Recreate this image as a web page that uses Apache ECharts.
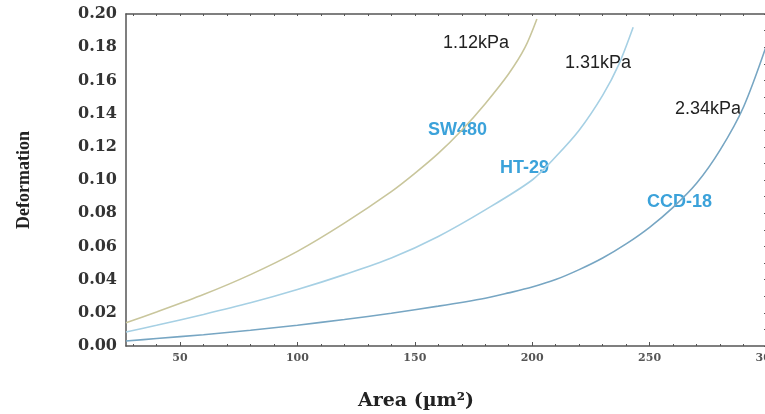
<!DOCTYPE html>
<html>
<head>
<meta charset="utf-8">
<script src="https://cdn.jsdelivr.net/npm/echarts@6/dist/echarts.min.js"></script>
<style>html,body{margin:0;padding:0;background:#fff;}#c{width:765px;height:414px;}</style>
</head>
<body>
<div id="c"></div>
<script>
// Data
const xSW = [27, 40, 60, 80, 100, 120, 140, 150, 160, 170, 180, 190, 197, 202];
const ySW = [0.014, 0.0205, 0.031, 0.043, 0.057, 0.074, 0.093, 0.104, 0.116, 0.130, 0.146, 0.164, 0.180, 0.197];
const xHT = [27, 40, 60, 80, 100, 120, 140, 160, 180, 200, 210, 220, 230, 237, 243];
const yHT = [0.0084, 0.0125, 0.019, 0.026, 0.034, 0.043, 0.053, 0.066, 0.082, 0.100, 0.114, 0.130, 0.151, 0.170, 0.192];
const xCCD = [27, 40, 60, 80, 100, 120, 140, 160, 180, 190, 200, 210, 220, 230, 240, 250, 260, 270, 280, 290, 300];
const yCCD = [0.003, 0.0045, 0.0068, 0.0095, 0.0125, 0.016, 0.0197, 0.024, 0.0288, 0.032, 0.0355, 0.040, 0.046, 0.053, 0.0615, 0.0715, 0.0835, 0.098, 0.118, 0.144, 0.182];
const xMajorTicks = [50, 100, 150, 200, 250, 300];
const xMinorTicks = [30, 40, 60, 70, 80, 90, 110, 120, 130, 140, 160, 170, 180, 190, 210, 220, 230, 240, 260, 270, 280, 290];
const xTopTicks = [30, 40, 50, 60, 70, 80, 90, 100, 110, 120, 130, 140, 150, 160, 170, 180, 190, 200, 210, 220, 230, 240, 250, 260, 270, 280, 290, 300];
const seriesNames = ['SW480', 'HT-29', 'CCD-18'];
const stiffness = ['1.12kPa', '1.31kPa', '2.34kPa'];

function zip(xs, ys) { return xs.map((x, i) => [x, ys[i]]); }

const chart = echarts.init(document.getElementById('c'), null, {renderer: 'canvas'});
const serif = 'DejaVu Serif';
const axisColor = '#555';

chart.setOption({
  backgroundColor: '#fff',
  animation: false,
  grid: {left: 126, top: 14, right: -2, bottom: 68, containLabel: false, outerBoundsMode: 'none'},
  xAxis: [
    {
      type: 'value', min: 27, max: 300, position: 'bottom',
      axisLine: {show: true, onZero: false, lineStyle: {color: axisColor, width: 1.5}},
      axisTick: {show: true, inside: true, length: 4, customValues: xMajorTicks, lineStyle: {color: axisColor}},
      axisLabel: {customValues: xMajorTicks, fontFamily: serif, fontWeight: 'bold', fontSize: 11, color: '#555', margin: 7, hideOverlap: false},
      splitLine: {show: false}
    },
    {
      type: 'value', min: 27, max: 300, position: 'bottom',
      axisLine: {show: false, onZero: false},
      axisTick: {show: true, inside: true, length: 2, customValues: xMinorTicks, lineStyle: {color: axisColor}},
      axisLabel: {show: false},
      splitLine: {show: false}
    },
    {
      type: 'value', min: 27, max: 300, position: 'top',
      axisLine: {show: true, onZero: false, lineStyle: {color: axisColor, width: 1.5}},
      axisTick: {show: true, inside: true, length: 2, customValues: xTopTicks, lineStyle: {color: axisColor}},
      axisLabel: {show: false},
      splitLine: {show: false}
    }
  ],
  yAxis: [
    {
      type: 'value', min: 0, max: 0.2, interval: 0.02, position: 'left',
      axisLine: {show: true, onZero: false, lineStyle: {color: axisColor, width: 1.5}},
      axisTick: {show: false},
      axisLabel: {formatter: v => v.toFixed(2), fontFamily: serif, fontWeight: 'bold', fontSize: 16, color: '#333', margin: 9},
      splitLine: {show: false}
    },
    {
      type: 'value', min: 0, max: 0.2, interval: 0.01, position: 'right',
      axisLine: {show: true, onZero: false, lineStyle: {color: axisColor, width: 1.5}},
      axisTick: {show: true, inside: true, length: 3, lineStyle: {color: axisColor}},
      axisLabel: {show: false},
      splitLine: {show: false}
    }
  ],
  series: [
    {name: seriesNames[0], type: 'line', data: zip(xSW, ySW), showSymbol: false, smooth: 0.3,
     lineStyle: {color: '#c9c69c', width: 1.6}, xAxisIndex: 0, yAxisIndex: 0},
    {name: seriesNames[1], type: 'line', data: zip(xHT, yHT), showSymbol: false, smooth: 0.3,
     lineStyle: {color: '#a6d0e4', width: 1.6}, xAxisIndex: 0, yAxisIndex: 0},
    {name: seriesNames[2], type: 'line', data: zip(xCCD, yCCD), showSymbol: false, smooth: 0.3,
     lineStyle: {color: '#77a6c3', width: 1.6}, xAxisIndex: 0, yAxisIndex: 0}
  ],
  graphic: [
    {type: 'text', x: 24, y: 180, rotation: Math.PI / 2,
     style: {text: 'Deformation', font: 'bold 18px "Liberation Serif"', fill: '#222', align: 'center', verticalAlign: 'middle'}},
    {type: 'text', x: 416, y: 401,
     style: {text: 'Area (\u00b5m\u00b2)', font: 'bold 19px "DejaVu Serif"', fill: '#222', align: 'center', verticalAlign: 'middle'}},
    {type: 'text', x: 443, y: 43, style: {text: stiffness[0], font: '18px "Liberation Sans"', fill: '#222', verticalAlign: 'middle'}},
    {type: 'text', x: 565, y: 63, style: {text: stiffness[1], font: '18px "Liberation Sans"', fill: '#222', verticalAlign: 'middle'}},
    {type: 'text', x: 675, y: 109, style: {text: stiffness[2], font: '18px "Liberation Sans"', fill: '#222', verticalAlign: 'middle'}},
    {type: 'text', x: 428, y: 130, style: {text: seriesNames[0], font: 'bold 18px "Liberation Sans"', fill: '#3ba2da', verticalAlign: 'middle'}},
    {type: 'text', x: 500, y: 168, style: {text: seriesNames[1], font: 'bold 18px "Liberation Sans"', fill: '#3ba2da', verticalAlign: 'middle'}},
    {type: 'text', x: 647, y: 202, style: {text: seriesNames[2], font: 'bold 18px "Liberation Sans"', fill: '#3ba2da', verticalAlign: 'middle'}}
  ]
});
</script>
</body>
</html>
